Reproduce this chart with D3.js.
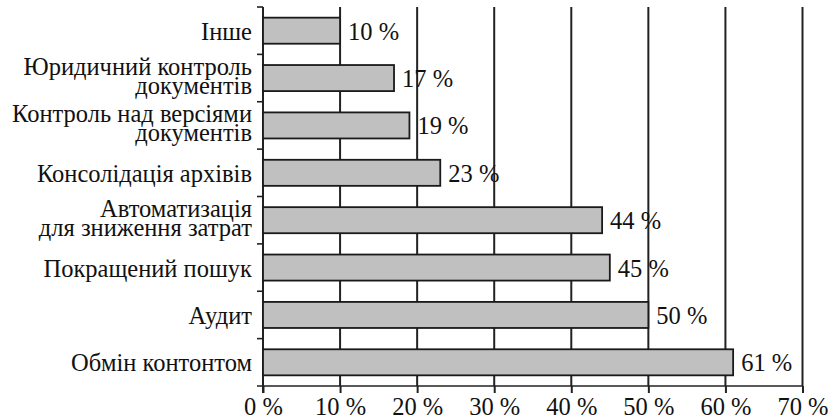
<!DOCTYPE html>
<html>
<head>
<meta charset="utf-8">
<script src="https://cdn.jsdelivr.net/npm/d3@7"></script>
<style>
  body { margin: 0; background: #fff; }
  text { font-family: "Liberation Serif", "Times New Roman", serif; fill: #111; }
</style>
</head>
<body>
<svg id="chart" width="835" height="420"></svg>
<script>
// категорії зверху вниз, "|" - перенос рядка
var categories = [
  "Інше",
  "Юридичний контроль|документів",
  "Контроль над версіями|документів",
  "Консолідація архівів",
  "Автоматизація|для зниження затрат",
  "Покращений пошук",
  "Аудит",
  "Обмін контонтом"
];
var values = [10, 17, 19, 23, 44, 45, 50, 61];
var xTicks = [0, 10, 20, 30, 40, 50, 60, 70];

var svg = d3.select("#chart");
var mLeft = 263, mRight = 802.5, mTop = 7, mBottom = 386;
var fs = 24.5;

var x = d3.scaleLinear().domain([0, 70]).range([mLeft, mRight]);
var y = d3.scaleBand().domain(categories).range([mTop, mBottom])
  .paddingInner(0.45).paddingOuter(0.225);
var step = y.step();

// вертикальна сітка
svg.append("g").selectAll("line")
  .data(xTicks.filter(function(d){ return d > 0; }))
  .enter().append("line")
  .attr("x1", function(d){ return x(d); })
  .attr("x2", function(d){ return x(d); })
  .attr("y1", mTop).attr("y2", mBottom)
  .attr("stroke", "#222").attr("stroke-width", 2);

// нижня вісь
var xAxis = d3.axisBottom(x).tickValues(xTicks)
  .tickFormat(function(d){ return d + " %"; })
  .tickSize(7).tickSizeOuter(0);
var gx = svg.append("g").attr("transform", "translate(0," + mBottom + ")").call(xAxis);
gx.attr("font-family", null).attr("font-size", null);
gx.select(".domain").attr("stroke", "#222").attr("stroke-width", 1.6)
  .attr("d", "M" + (mLeft - 6) + ",0H" + mRight);
gx.selectAll(".tick line").attr("stroke", "#222").attr("stroke-width", 2);
gx.selectAll(".tick text").attr("font-size", fs).attr("y", 29).attr("dy", 0).attr("fill", "#111");

// ліва вісь з рисками між категоріями
svg.append("line")
  .attr("x1", mLeft).attr("x2", mLeft)
  .attr("y1", mTop).attr("y2", mBottom + 7)
  .attr("stroke", "#222").attr("stroke-width", 2);
svg.append("g").selectAll("line")
  .data(d3.range(categories.length))
  .enter().append("line")
  .attr("x1", mLeft - 6).attr("x2", mLeft)
  .attr("y1", function(i){ return mTop + i * step; })
  .attr("y2", function(i){ return mTop + i * step; })
  .attr("stroke", "#222").attr("stroke-width", 1.6);

// стовпці
svg.append("g").selectAll("rect")
  .data(values)
  .enter().append("rect")
  .attr("x", x(0))
  .attr("y", function(d, i){ return y(categories[i]); })
  .attr("width", function(d){ return x(d) - x(0); })
  .attr("height", y.bandwidth())
  .attr("fill", "#c0c0c0")
  .attr("stroke", "#1a1a1a").attr("stroke-width", 1.8);

// підписи значень
svg.append("g").selectAll("text")
  .data(values)
  .enter().append("text")
  .attr("x", function(d){ return x(d) + 8; })
  .attr("y", function(d, i){ return y(categories[i]) + y.bandwidth() / 2 + 9; })
  .attr("font-size", fs)
  .text(function(d){ return d + " %"; });

// підписи категорій
var lab = svg.append("g").selectAll("text")
  .data(categories)
  .enter().append("text")
  .attr("text-anchor", "end")
  .attr("font-size", fs)
  .attr("transform", function(d){
    return "translate(252," + (y(d) + y.bandwidth() / 2) + ")";
  });
lab.each(function(d){
  var lines = d.split("|");
  var t = d3.select(this);
  lines.forEach(function(s, k){
    var off = lines.length === 1 ? 9 : (k === 0 ? -3 : 16);
    t.append("tspan").attr("x", 0).attr("y", off).text(s);
  });
});
</script>
</body>
</html>
